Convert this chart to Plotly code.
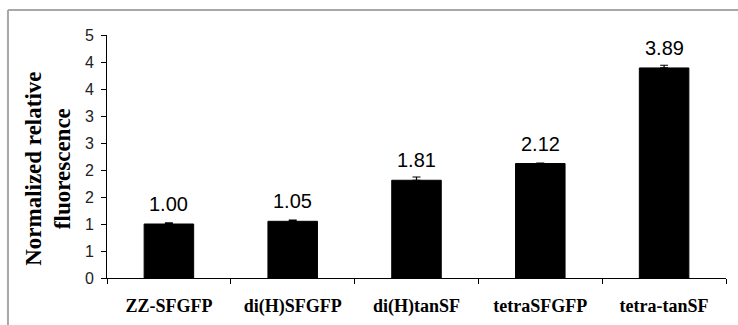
import plotly.graph_objects as go

categories = ["ZZ-SFGFP", "di(H)SFGFP", "di(H)tanSF", "tetraSFGFP", "tetra-tanSF"]
values = [1.00, 1.05, 1.81, 2.12, 3.89]
errors = [0.02, 0.02, 0.06, 0.01, 0.05]
value_labels = ["1.00", "1.05", "1.81", "2.12", "3.89"]
ytick_vals = [0, 0.5, 1.0, 1.5, 2.0, 2.5, 3.0, 3.5, 4.0, 4.5]
ytick_text = ["0", "1", "1", "2", "2", "3", "3", "4", "4", "5"]

fig = go.Figure()
fig.add_trace(go.Bar(
    x=categories, y=values, width=0.4,
    marker=dict(color="black", line=dict(color="black", width=1)),
    error_y=dict(type="data", array=errors, arrayminus=[0]*len(errors),
                 color="black", thickness=1.2, width=4),
))

for c, v, e, t in zip(categories, values, errors, value_labels):
    fig.add_annotation(x=c, y=v, text=t, showarrow=False, yanchor="bottom",
                       yshift=7, font=dict(family="Arial, Liberation Sans", size=20, color="black"))

fig.add_annotation(xref="paper", yref="paper", x=-0.095, y=0.45,
                   text="<b>Normalized relative<br>fluorescence</b>", textangle=-90,
                   showarrow=False, xanchor="center", yanchor="middle",
                   font=dict(family="Liberation Serif, Times New Roman", size=23, color="black"))

# outer frame lines (gray)
fig.add_shape(type="line", xref="paper", yref="paper", x0=-0.16, x1=1.03, y0=1.103, y1=1.103,
              line=dict(color="#a8a8a8", width=2))
fig.add_shape(type="line", xref="paper", yref="paper", x0=-0.16, x1=-0.16, y0=1.103, y1=-0.25,
              line=dict(color="#a8a8a8", width=2))

fig.update_layout(
    width=738, height=325,
    margin=dict(l=107, r=12, t=35, b=47),
    plot_bgcolor="white", paper_bgcolor="white",
    showlegend=False,
    bargap=0.6,
)
fig.update_xaxes(
    showline=True, linecolor="black", linewidth=1,
    ticks="outside", tickson="boundaries", ticklen=5, tickcolor="black",
    tickfont=dict(family="Liberation Serif, Times New Roman", size=18, color="black", weight="bold"),
    showgrid=False, ticklabelstandoff=11, automargin=False,
)
fig.update_yaxes(
    range=[0, 4.5], tickvals=ytick_vals, ticktext=ytick_text,
    showline=True, linecolor="black", linewidth=1,
    ticks="outside", ticklen=5, tickcolor="black",
    tickfont=dict(family="Arial, Liberation Sans", size=16, color="#222"),
    showgrid=False, zeroline=False, ticklabelstandoff=4, automargin=False,
)
fig.write_html("out.html", config={"displayModeBar": False},
               post_script="document.body.style.margin='0';")
